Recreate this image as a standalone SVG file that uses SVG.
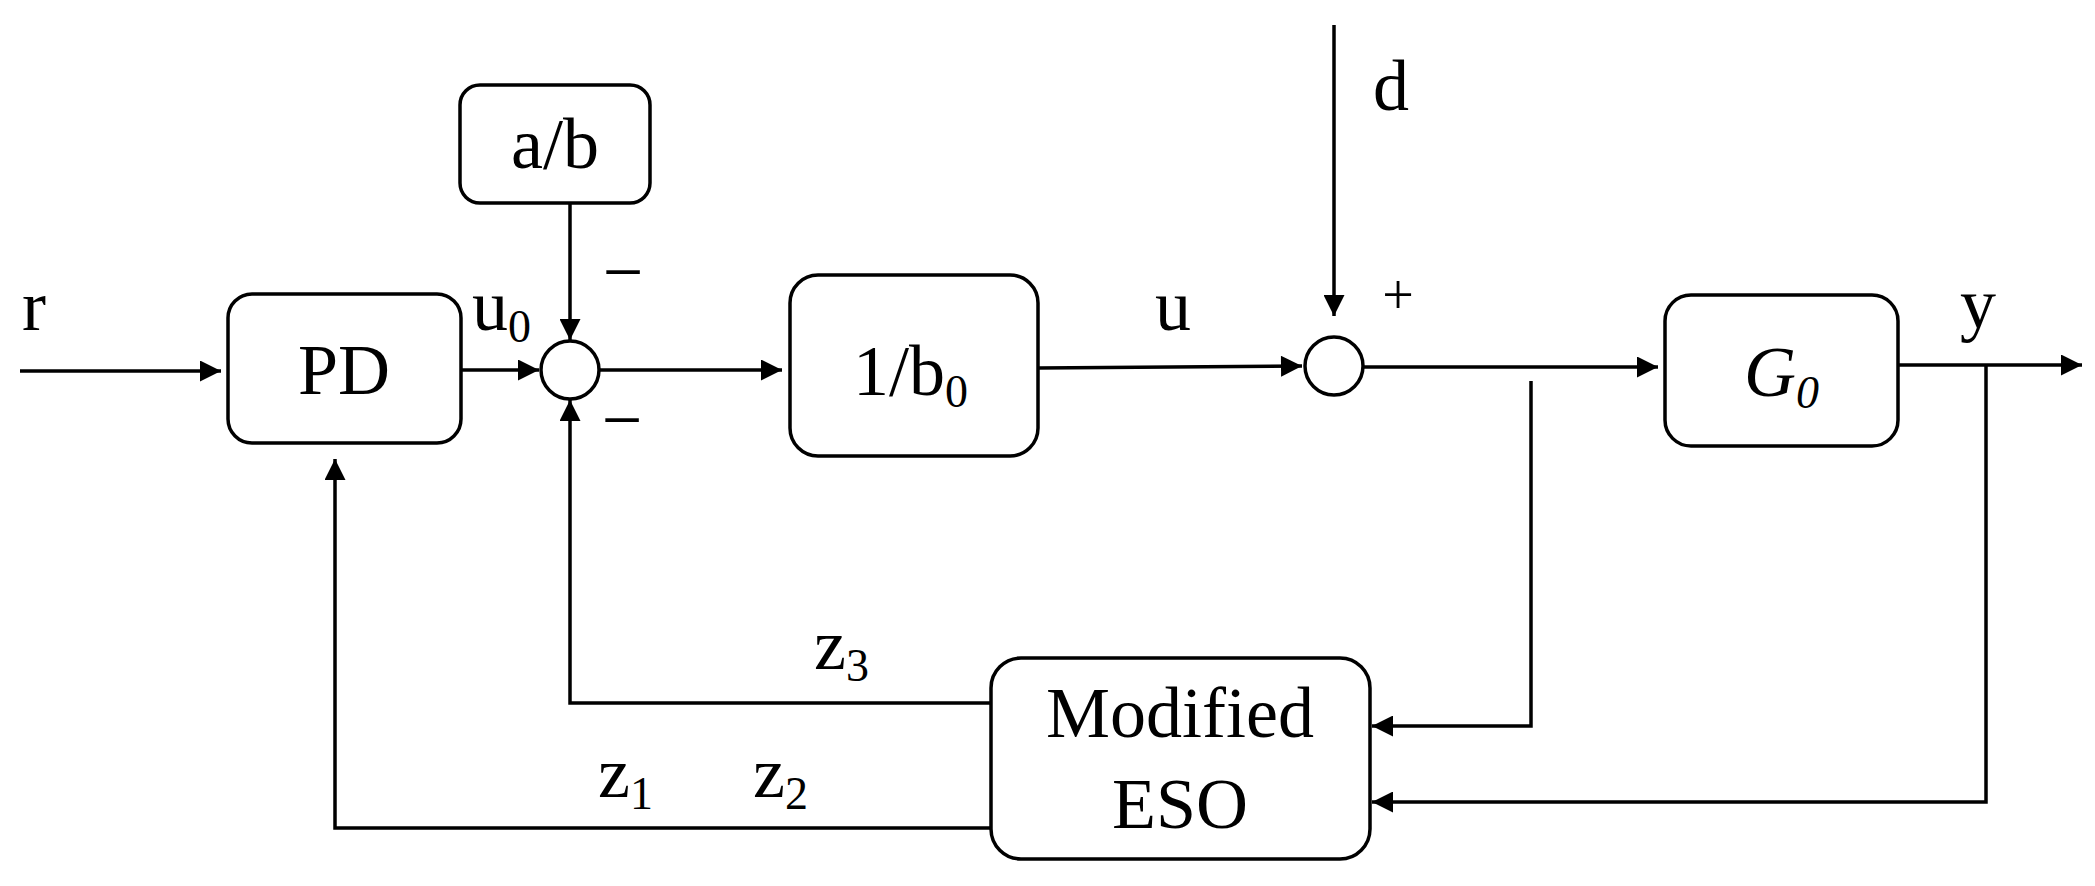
<svg xmlns="http://www.w3.org/2000/svg" width="2095" height="886" viewBox="0 0 2095 886">
<style>
.b{fill:#fff;stroke:#000;stroke-width:3.5}
.l{fill:none;stroke:#000;stroke-width:3.5}
text{font-family:"Liberation Serif",serif;font-size:72px;fill:#000}
.s{font-size:46px}
.m{text-anchor:middle}
</style>
<defs>
<marker id="a" viewBox="0 0 10 10" refX="10" refY="5" markerWidth="7" markerHeight="6" markerUnits="strokeWidth" orient="auto"><path d="M0,0L10,5L0,10z" fill="#000"/></marker>
</defs>
<rect width="2095" height="886" fill="#fff"/>
<g id="connectors">
<path class="l" d="M20,371H221" marker-end="url(#a)"/>
<path class="l" d="M461,370H539" marker-end="url(#a)"/>
<path class="l" d="M570,203V340" marker-end="url(#a)"/>
<path class="l" d="M600,370H782" marker-end="url(#a)"/>
<path class="l" d="M1038,368L1302,366" marker-end="url(#a)"/>
<path class="l" d="M1334,25V316" marker-end="url(#a)"/>
<path class="l" d="M1364,367H1658" marker-end="url(#a)"/>
<path class="l" d="M1898,365H2082" marker-end="url(#a)"/>
<path class="l" d="M1531,381V726H1372" marker-end="url(#a)"/>
<path class="l" d="M1986,365V802H1372" marker-end="url(#a)"/>
<path class="l" d="M991,703H570V400" marker-end="url(#a)"/>
<path class="l" d="M991,828H335V459" marker-end="url(#a)"/>
</g>
<g id="pd"><rect class="b" x="228" y="294" width="233" height="149" rx="24"/><text class="m" x="344" y="394">PD</text></g>
<g id="ab"><rect class="b" x="460" y="85" width="190" height="118" rx="20"/><text class="m" x="555" y="168">a/b</text></g>
<g id="sum1"><circle class="b" cx="570" cy="370" r="29"/></g>
<g id="b0"><rect class="b" x="790" y="275" width="248" height="181" rx="28"/><text x="853" y="395">1/b<tspan class="s" dy="12">0</tspan></text></g>
<g id="sum2"><circle class="b" cx="1334" cy="366" r="29"/></g>
<g id="g0"><rect class="b" x="1665" y="295" width="233" height="151" rx="26"/><text x="1744" y="396" font-style="italic">G<tspan class="s" dy="12">0</tspan></text></g>
<g id="eso"><rect class="b" x="991" y="658" width="379" height="201" rx="30"/><text class="m" x="1180" y="737">Modified</text><text class="m" x="1180" y="828">ESO</text></g>
<g id="labels">
<text x="22" y="330">r</text>
<text x="472" y="330">u<tspan class="s" dy="12">0</tspan></text>
<text class="m" x="623" y="296">−</text>
<text class="m" x="622" y="444">−</text>
<text x="1155" y="330">u</text>
<text x="1373" y="110">d</text>
<text class="m" x="1398" y="314" style="font-size:56px">+</text>
<text x="1960" y="328">y</text>
<text x="814" y="669">z<tspan class="s" dy="12">3</tspan></text>
<text x="598" y="797">z<tspan class="s" dy="12">1</tspan></text>
<text x="753" y="797">z<tspan class="s" dy="12">2</tspan></text>
</g>
</svg>
